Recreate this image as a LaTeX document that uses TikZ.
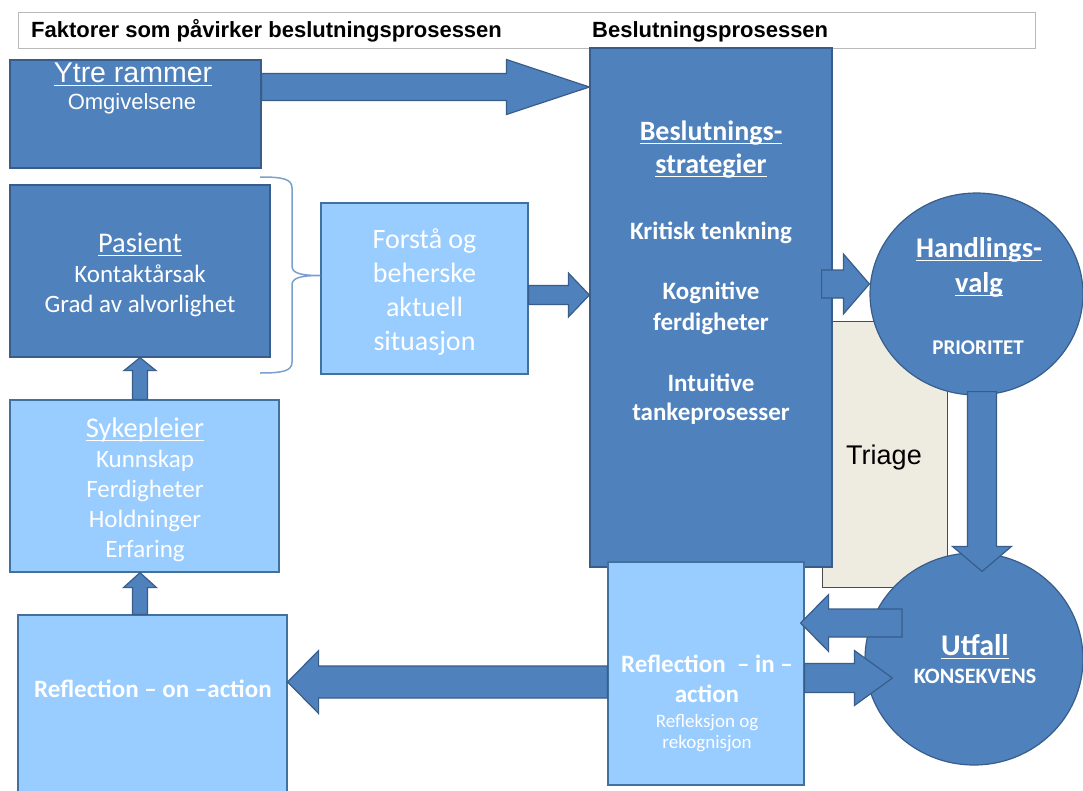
\documentclass[tikz,border=0pt]{standalone}
\usepackage{fontspec}
\setmainfont{Carlito}
\newfontfamily\arialfont{Liberation Sans}
\usepackage{tikz}
\usetikzlibrary{calc}
\usetikzlibrary{positioning,shapes.geometric}
\definecolor{boxblue}{HTML}{4F81BD}
\definecolor{edgeblue}{HTML}{385D8A}
\definecolor{paleblue}{HTML}{99CCFF}
\definecolor{paleedge}{HTML}{41719C}
\definecolor{triagebg}{HTML}{EEECE1}
\definecolor{bracecol}{HTML}{7BA0CD}
\newlength{\ulwd}
\newcommand{\uln}[1]{\settowidth{\ulwd}{#1}\rlap{\rule[-4.2pt]{\ulwd}{1.4pt}}#1}
\newcommand{\sz}[2]{\fontsize{#1}{#2}\selectfont}
% block arrow: from, to, shaft half width, head half width, head length
\newcommand{\blockarrow}[5]{%
	\coordinate (ba-h) at ($(#2)!#5!(#1)$);
	\filldraw[fill=boxblue, draw=edgeblue, line width=1.2pt, line join=miter]
		($(#1)!#3!90:(#2)$) -- ($(ba-h)!#3!90:(#2)$) -- ($(ba-h)!#4!90:(#2)$) -- (#2)
		-- ($(ba-h)!#4!-90:(#2)$) -- ($(ba-h)!#3!-90:(#2)$) -- ($(#1)!#3!-90:(#2)$) -- cycle;
}
\tikzset{
	darkrect/.style={draw=edgeblue, fill=boxblue, line width=1.2pt, inner sep=0pt},
	lightrect/.style={draw=paleedge, fill=paleblue, line width=1.2pt, inner sep=0pt},
	roundbox/.style={ellipse, draw=edgeblue, fill=boxblue, line width=1.2pt, inner sep=0pt},
	wtext/.style={text=white, inner sep=0pt, anchor=base},
	hdrtext/.style={inner sep=0pt, anchor=base west, font=\arialfont\bfseries\sz{22}{26}}
}

\begin{document}
\begin{tikzpicture}[x=1pt, y=-1pt]
	\fill[white, use as bounding box] (0,0) rectangle (1083,790);
	% header line
	\node[draw=gray!55, line width=0.8pt, minimum width=1017pt, minimum height=36pt] (header) at (526.5,30) {};
	\node[hdrtext] (hdr-left) at (31,37) {Faktorer som påvirker beslutningsprosessen};
	\node[hdrtext] (hdr-right) at (592,37) {Beslutningsprosessen};

	% factors on the left
	\node[darkrect, minimum width=251pt, minimum height=108pt] (ytre) at (135.5,114) {};
	\node[darkrect, minimum width=260pt, minimum height=172pt] (pasient) at (140,271) {};
	\node[lightrect, minimum width=269pt, minimum height=172pt] (sykepl) at (144.5,486) {};
	\node[lightrect, minimum width=269pt, minimum height=190pt] (reflon) at (152.5,710) {};
	\node[lightrect, minimum width=207pt, minimum height=171pt] (forsta) at (424.5,288.5) {};

	% brace from patient to situation
	\coordinate (brace-tip) at ($(forsta.west)+(0,-13)$);
	\draw[bracecol, line width=1.5pt]
		(260,177) .. controls (283,177) and (292,179) .. (292,188) -- (292,266)
		.. controls (292,273) and (300,275.5) .. (brace-tip)
		.. controls (300,275.5) and (292,278) .. (292,285) -- (292,362)
		.. controls (292,371) and (283,373) .. (260,373);

	% decision process
	\node[draw=black!70, fill=triagebg, line width=1pt, minimum width=125pt, minimum height=266pt] (triage) at (884.5,454) {};
	\node[darkrect, minimum width=242pt, minimum height=519pt] (beslut) at (711,307.5) {};
	\node[lightrect, minimum width=196pt, minimum height=223pt] (reflin) at (706,673.5) {};
	\node[roundbox, minimum width=213pt, minimum height=202pt] (handl) at (976.5,294) {};
	\node[roundbox, minimum width=218pt, minimum height=212pt] (utfall) at (974,659) {};

	% texts
	\node[wtext, font=\arialfont\sz{28.5}{32}] (ytre-t) at (133,82) {\uln{Ytre rammer}};
	\node[wtext, font=\arialfont\sz{22}{26}] (ytre-s) at (132,109) {Omgivelsene};
	\node[wtext, font=\sz{28.5}{30}] (pas-t) at (140,252) {\uln{Pasient}};
	\node[wtext, font=\sz{25}{30}] (pas-a) at (140,282) {Kontaktårsak};
	\node[wtext, font=\sz{25}{30}] (pas-b) at (140,312) {Grad av alvorlighet};
	\node[wtext, font=\sz{28.5}{30}] (syk-t) at (145,437) {\uln{Sykepleier}};
	\foreach \txt/\yy in {Kunnskap/467,Ferdigheter/497,Holdninger/527,Erfaring/557}
		\node[wtext, font=\sz{25}{30}] (syk-\yy) at (145,\yy) {\txt};
	\node[wtext, font=\bfseries\sz{25}{30}] (reflon-t) at (153,697) {Reflection – on –action};
	\foreach \txt/\yy in {Forstå og/248,beherske/282,aktuell/316,situasjon/350}
		\node[wtext, font=\sz{28}{34}] (forsta-\yy) at (424.5,\yy) {\txt};
	\node[wtext, font=\bfseries\sz{28}{33}] (bes-a) at (711,140) {\uln{Beslutnings-}};
	\node[wtext, font=\bfseries\sz{28}{33}] (bes-b) at (711,173) {\uln{strategier}};
	\foreach \txt/\yy in {Kritisk tenkning/239,Kognitive/299,ferdigheter/330,Intuitive/391,tankeprosesser/420}
		\node[wtext, font=\bfseries\sz{25}{30}] (bes-\yy) at (711,\yy) {\txt};
	\node[inner sep=0pt, anchor=base, font=\arialfont\sz{27}{30}] (triage-t) at (884,464) {Triage};
	\node[wtext, font=\bfseries\sz{28.5}{33}] (handl-a) at (979,257) {\uln{Handlings-}};
	\node[wtext, font=\bfseries\sz{28.5}{33}] (handl-b) at (979,292) {\uln{valg}};
	\node[wtext, font=\bfseries\sz{21}{25}] (handl-c) at (978,354) {PRIORITET};
	\node[wtext, font=\bfseries\sz{30}{33}] (utfall-a) at (975,655) {\uln{Utfall}};
	\node[wtext, font=\bfseries\sz{22}{26}] (utfall-b) at (975,683) {KONSEKVENS};
	\node[wtext, font=\bfseries\sz{25}{30}] (reflin-a) at (707,672) {Reflection~ – in –};
	\node[wtext, font=\bfseries\sz{25}{30}] (reflin-b) at (707,702) {action};
	\node[wtext, font=\sz{19}{22}] (reflin-c) at (707,727) {Refleksjon og};
	\node[wtext, font=\sz{19}{22}] (reflin-d) at (707,748) {rekognisjon};

	% arrow ends
	\coordinate (a1s) at ($(ytre.east)+(0,-27)$);
	\coordinate (a1e) at (beslut.west |- a1s);
	\coordinate (a2s) at ($(forsta.east)+(0,6.5)$);
	\coordinate (a2e) at (beslut.west |- a2s);
	\coordinate (a3s) at ($(beslut.east)+(-11,-23.5)$);
	\coordinate (a3e) at (handl.west |- a3s);
	\coordinate (a4s) at ($(handl.south)+(5.5,-4)$);
	\coordinate (a4e) at ($(utfall.north)+(8,19)$);
	\coordinate (a5s) at ($(utfall.center)+(-72,-36)$);
	\coordinate (a5e) at ($(reflin.east)+(-4,-50.5)$);
	\coordinate (a6s) at ($(reflin.east)+(0,4.5)$);
	\coordinate (a6e) at ($(utfall.west)+(28,19)$);
	\coordinate (a7s) at ($(reflin.west)+(0,8.5)$);
	\coordinate (a7e) at (reflon.east |- a7s);
	\coordinate (a8s) at ($(reflon.north)+(-12.5,0)$);
	\coordinate (a8e) at (a8s |- sykepl.south);
	\coordinate (a9s) at ($(sykepl.north)+(-4.5,0)$);
	\coordinate (a9e) at (a9s |- pasient.south);

	% block arrows
	\foreach \from/\to/\sw/\hw/\hl in {a1s/a1e/13.5/27.5/83, a2s/a2e/9.5/22/21, a3s/a3e/14/30/26,
		a4s/a4e/14.5/29.5/25, a5s/a5e/14/28.5/28, a6s/a6e/14.5/27.5/38, a7s/a7e/16/31.5/31,
		a8s/a8e/7.5/16.5/15, a9s/a9e/7.5/16/13}
		{\blockarrow{\from}{\to}{\sw pt}{\hw pt}{\hl pt}}
\end{tikzpicture}
\end{document}
